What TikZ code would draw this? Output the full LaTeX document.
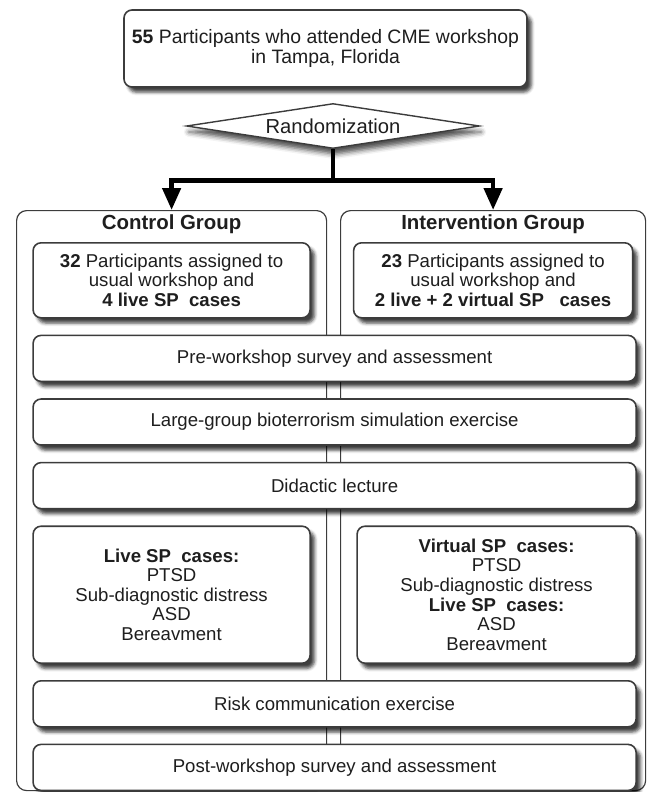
\documentclass[tikz,border=0pt]{standalone}
\usepackage{fontspec}
\setmainfont{Liberation Sans}
\usepackage{tikz}
\usepackage{xcolor}
\usetikzlibrary{positioning}
\usetikzlibrary{shapes.geometric}
\usetikzlibrary{arrows.meta}
\usetikzlibrary{shadows.blur}
\definecolor{boxline}{RGB}{60, 60, 60}
\definecolor{boxtext}{RGB}{30, 30, 30}
\tikzstyle{softshadow} = [
	blur shadow={shadow xshift=2.2pt, shadow yshift=-2.6pt, shadow blur radius=1.6pt, shadow opacity=75}
]
\tikzstyle{stepbox} = [
	draw=boxline,
	line width=0.8pt,
	fill=white,
	rounded corners=4pt,
	text=boxtext,
	align=center,
	inner sep=0pt,
	font=\fontsize{9.3}{9.8}\selectfont,
	softshadow,
	minimum width=301.5pt,
	minimum height=23pt
]
\tikzstyle{infobox} = [
	stepbox,
	minimum width=138.5pt,
	minimum height=37.5pt
]
\tikzstyle{casebox} = [
	stepbox,
	minimum width=138.5pt,
	minimum height=68.5pt
]
\tikzstyle{startbox} = [
	stepbox,
	font=\fontsize{9.7}{10}\selectfont,
	minimum width=201.5pt,
	minimum height=38.5pt
]
\tikzstyle{randdiamond} = [
	diamond,
	draw=boxline,
	line width=0.7pt,
	fill=white,
	text=boxtext,
	inner sep=0pt,
	aspect=6.5,
	font=\fontsize{10.1}{11}\selectfont,
	blur shadow={shadow xshift=1pt, shadow yshift=-3pt, shadow blur radius=2.5pt, shadow opacity=70},
	minimum width=146.5pt,
	minimum height=22.5pt
]
\tikzstyle{groupbox} = [
	draw=boxline,
	line width=0.6pt,
	rounded corners=5pt,
	anchor=north west,
	minimum height=290pt
]
\tikzstyle{grouptitle} = [
	text=boxtext,
	inner sep=0pt,
	font=\fontsize{10.2}{11}\selectfont\bfseries
]
\tikzstyle{branch} = [
	line width=2.3pt,
	black,
	-{Triangle[width=9pt, length=11pt]}
]

\begin{document}
\begin{tikzpicture}[x=0.5pt, y=-0.5pt]
	\useasboundingbox (0,0) rectangle (647,792);

	%
	% Start and randomization
	\node[startbox] (start) at (325.5,48.5) {\textbf{55} Participants who attended CME workshop\\in Tampa, Florida};
	\node[randdiamond, below=7.5pt of start, xshift=3.75pt] (rand) {Randomization};

	%
	% Group panels
	\node[groupbox, minimum width=155pt] (ctrl) at (16,210) {};
	\node[groupbox, minimum width=152.5pt] (intv) at (340,210) {};
	\node[grouptitle] (ctrlT) at ([yshift=-7pt]ctrl.north) {Control Group};
	\node[grouptitle] (intvT) at ([yshift=-7pt]intv.north) {Intervention Group};

	%
	% Arrows
	\draw[branch] (rand.south) -- ++(0,-15.5pt) -| (ctrl.north);
	\draw[branch] (rand.south) -- ++(0,-15.5pt) -| (intv.north);

	%
	% Assigned participants
	\node[infobox, below=16pt of ctrl.north] (ctrlN) {\textbf{32} Participants assigned to\\usual workshop and\\\textbf{4 live SP\ \ cases}};
	\node[infobox, below=16pt of intv.north, minimum width=139.5pt] (intvN) {\textbf{23} Participants assigned to\\usual workshop and\\\textbf{2 live + 2 virtual SP\ \ \ cases}};

	%
	% Shared steps
	\node[stepbox, anchor=north west] at ([yshift=-8pt]ctrlN.south west) (pre) {Pre-workshop survey and assessment};
	\node[stepbox, below=8pt of pre] (sim) {Large-group bioterrorism simulation exercise};
	\node[stepbox, below=8pt of sim] (lect) {Didactic lecture};

	%
	% SP cases
	\node[casebox, anchor=north west] at ([yshift=-8pt]lect.south west) (ctrlC) {\textbf{Live SP\ \ cases:}\\PTSD\\Sub-diagnostic distress\\ASD\\Bereavment};
	\node[casebox, anchor=north east, minimum width=139.5pt] at ([yshift=-8pt]lect.south east) (intvC) {\textbf{Virtual SP\ \ cases:}\\PTSD\\Sub-diagnostic distress\\\textbf{Live SP\ \ cases:}\\ASD\\Bereavment};

	%
	% Closing steps
	\node[stepbox, anchor=north west] at ([yshift=-8pt]ctrlC.south west) (risk) {Risk communication exercise};
	\node[stepbox, below=8pt of risk] (post) {Post-workshop survey and assessment};

\end{tikzpicture}
\end{document}
